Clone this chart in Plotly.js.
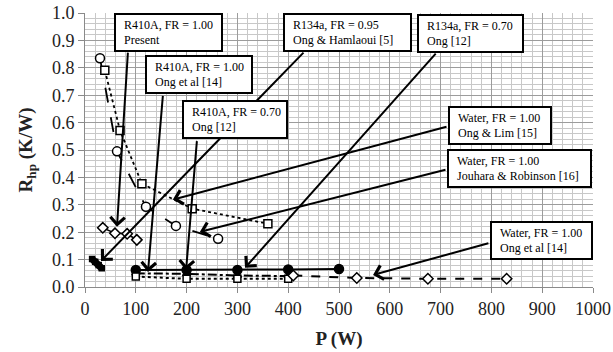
<!DOCTYPE html>
<html>
<head>
<meta charset="utf-8">
<script src="https://cdn.plot.ly/plotly-3.0.1.min.js"></script>
<style>html,body{margin:0;padding:0;background:#fff}#chart{width:613px;height:352px}</style>
</head>
<body>
<div id="chart"></div>
<script>
// ---- data ----
const jouharaP = [29.5, 63, 120, 179, 262];
const jouharaR = [0.835, 0.495, 0.293, 0.223, 0.176];

const ongLimP = [39, 69, 112, 211, 360];
const ongLimR = [0.791, 0.571, 0.377, 0.286, 0.231];

const presentP = [35, 59, 83, 102];
const presentR = [0.216, 0.196, 0.194, 0.172];

const ongHamlaouiP = [14, 20, 27, 33];
const ongHamlaouiR = [0.102, 0.092, 0.08, 0.068];

const r134aOng12P = [100, 200, 300, 400, 500];
const r134aOng12R = [0.062, 0.062, 0.062, 0.064, 0.066];

const r410aOng14P = [100, 200, 300, 400];
const r410aOng14R = [0.05, 0.048, 0.042, 0.04];

const r410aOng12P = [100, 200, 300, 400];
const r410aOng12R = [0.038, 0.03, 0.03, 0.03];

const waterOng14P = [410, 535, 675, 830];
const waterOng14R = [0.042, 0.033, 0.03, 0.03];

const labelLine1 = ["R410A, FR = 1.00", "R410A, FR = 1.00", "R410A, FR = 0.70", "R134a, FR = 0.95",
                    "R134a, FR = 0.70", "Water, FR = 1.00", "Water, FR = 1.00", "Water, FR = 1.00"];
const labelLine2 = ["Present", "Ong et al [14]", "Ong [12]", "Ong &amp; Hamlaoui [5]",
                    "Ong [12]", "Ong &amp; Lim [15]", "Jouhara &amp; Robinson [16]", "Ong et al [14]"];

const xTicks = [0, 100, 200, 300, 400, 500, 600, 700, 800, 900, 1000];

// ---- label layout (box left/top in data units, box width px) ----
const boxX = [57, 118, 191, 390, 653, 715, 712, 797];
const boxY = [1.0, 0.846, 0.681, 1.0, 0.996, 0.659, 0.505, 0.242];
const boxW = [109, 108, 106, 129, 107, 104, 145, 103];
const tailX = [84.6, 153.5, 220.5, 433, 693, 714.6, 712.6, 797];
const tailY = [0.861, 0.703, 0.538, 0.861, 0.857, 0.586, 0.429, 0.161];
const headX = [63, 124, 199, 31.5, 315, 173, 226, 567];
const headY = [0.220, 0.055, 0.062, 0.095, 0.070, 0.319, 0.201, 0.044];

const FONT = "Liberation Serif, Times New Roman, serif";

function tr(x, y, symbol, dash, msize, lw, fill) {
  return {
    type: "scatter", mode: "lines+markers", x: x, y: y, showlegend: false, cliponaxis: false,
    line: {color: "#000", width: lw, dash: dash},
    marker: {symbol: symbol, size: msize, color: fill, line: {color: "#000", width: 1.5}}
  };
}

const traces = [
  tr(jouharaP, jouharaR, "circle", "longdash", 9, 1.8, "#fff"),
  tr(ongLimP, ongLimR, "square", "dot", 8, 1.8, "#fff"),
  tr(presentP, presentR, "diamond", "solid", 8, 1.5, "#fff"),
  tr(ongHamlaouiP, ongHamlaouiR, "square", "solid", 5, 7, "#000"),
  tr(r134aOng12P, r134aOng12R, "circle", "solid", 9, 2, "#000"),
  tr(r410aOng14P, r410aOng14R, "triangle-up", "dashdot", 7, 2, "#000"),
  tr(r410aOng12P, r410aOng12R, "square", "dot", 7, 2, "#fff"),
  tr(waterOng14P, waterOng14R, "diamond", "dash", 8, 2, "#fff")
];

const annotations = [];
for (let i = 0; i < tailX.length; i++) {
  annotations.push({
    x: headX[i], y: headY[i], ax: tailX[i], ay: tailY[i], axref: "x", ayref: "y",
    xref: "x", yref: "y", text: "", showarrow: true,
    arrowhead: 4, arrowsize: 1.4, arrowwidth: 2, arrowcolor: "#000", standoff: 0
  });
}
for (let i = 0; i < labelLine1.length; i++) {
  annotations.push({
    x: boxX[i], y: boxY[i], xref: "x", yref: "y", xanchor: "left", yanchor: "top",
    text: "&nbsp;&nbsp;" + labelLine1[i] + "<br>&nbsp;&nbsp;" + labelLine2[i],
    align: "left", valign: "middle", showarrow: false,
    width: boxW[i] - 8, height: 31,
    font: {family: FONT, size: 12, color: "#000"},
    bgcolor: "#fff", bordercolor: "#000", borderwidth: 2, borderpad: 2
  });
}

const layout = {
  width: 613, height: 352,
  margin: {l: 85, r: 20, t: 13, b: 65},
  paper_bgcolor: "#fff", plot_bgcolor: "#fff",
  xaxis: {
    range: [0, 1000], tickvals: xTicks, ticktext: xTicks.map(String),
    showgrid: true, gridcolor: "#9c9c9c", gridwidth: 1,
    minor: {dtick: 20, tick0: 0, showgrid: true, gridcolor: "#c8c8c8", gridwidth: 1},
    showline: true, linecolor: "#8a8a8a", linewidth: 1,
    ticks: "outside", ticklen: 5, tickcolor: "#8a8a8a",
    zeroline: false,
    tickfont: {family: FONT, size: 18, color: "#222"},
    title: {text: "<b>P (W)</b>", font: {family: FONT, size: 19, color: "#222"}, standoff: 14}
  },
  yaxis: {
    range: [0, 1], dtick: 0.1, tick0: 0, tickformat: ".1f",
    showgrid: true, gridcolor: "#9c9c9c", gridwidth: 1,
    minor: {dtick: 0.02, tick0: 0, showgrid: true, gridcolor: "#c8c8c8", gridwidth: 1},
    showline: true, linecolor: "#8a8a8a", linewidth: 1,
    ticks: "outside", ticklen: 6, tickcolor: "#8a8a8a",
    zeroline: false,
    tickfont: {family: FONT, size: 18, color: "#222"},
    title: {text: "<b>R<sub>hp</sub> (K/W)</b>", font: {family: FONT, size: 19, color: "#222"}, standoff: 14}
  },
  annotations: annotations
};

Plotly.newPlot("chart", traces, layout, {staticPlot: true, displayModeBar: false});
</script>
</body>
</html>
